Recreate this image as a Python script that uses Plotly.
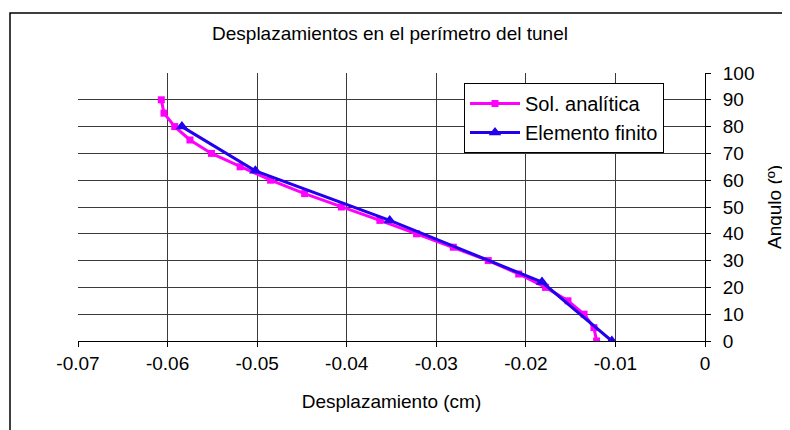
import plotly.graph_objects as go

# Data
ang_analitica = [0, 5, 10, 15, 20, 25, 30, 35, 40, 45, 50, 55, 60, 65, 70, 75, 80, 85, 90]
desp_analitica = [-0.0121, -0.0124, -0.0135, -0.0153, -0.0178, -0.0208, -0.0242, -0.0281,
                  -0.0322, -0.0363, -0.0406, -0.0447, -0.0485, -0.0519, -0.0551, -0.0575,
                  -0.0592, -0.0604, -0.0607]

ang_fem = [0, 22, 45, 63.5, 80]
desp_fem = [-0.0104, -0.0182, -0.0352, -0.0502, -0.0584]

x_ticks = [-0.07, -0.06, -0.05, -0.04, -0.03, -0.02, -0.01, 0]
x_ticktext = ["-0.07", "-0.06", "-0.05", "-0.04", "-0.03", "-0.02", "-0.01", "0"]
X_MIN, X_MAX = -0.07, 0

FONT = "Liberation Sans, Arial, sans-serif"
FS = 19
GRID = "#3a3a3a"

fig = go.Figure()
fig.add_trace(go.Scatter(
    x=desp_analitica, y=ang_analitica, mode="lines+markers", name="Sol. analítica",
    line=dict(color="#FF00FF", width=3),
    marker=dict(symbol="square", size=7, color="#FF00FF"),
))
fig.add_trace(go.Scatter(
    x=desp_fem, y=ang_fem, mode="lines+markers", name="Elemento finito",
    line=dict(color="#2200EE", width=3),
    marker=dict(symbol="triangle-up", size=11, color="#2200EE"),
))

OFF = 8  # page body margin
W, H = 790, 430
# plot area in page coordinates: x 78..705, y 73..341
L = 78 - OFF
T = 73 - OFF
R = W - (705 - OFF)
B = H - (341 - OFF)
pw, ph = W - L - R, H - T - B

def px(xp):
    return (xp - OFF - L) / pw

def py(yp):
    return (H - B - (yp - OFF)) / ph

fig.update_layout(
    width=W, height=H,
    margin=dict(l=L, r=R, t=T, b=B, autoexpand=False),
    paper_bgcolor="white", plot_bgcolor="white",
    font=dict(family=FONT, size=FS, color="black"),
    title=dict(text="Desplazamientos en el perímetro del tunel", x=px(390), xref="paper",
               xanchor="center", y=1 - (33 - OFF) / H, yanchor="middle",
               font=dict(family=FONT, size=FS, color="black")),
    showlegend=True,
    legend=dict(x=px(464), y=py(83), xanchor="left", yanchor="top",
                bgcolor="white", bordercolor="black", borderwidth=1,
                font=dict(family=FONT, size=20, color="black"),
                itemwidth=50, tracegroupgap=0),
    xaxis=dict(range=[X_MIN, X_MAX], tickvals=x_ticks, ticktext=x_ticktext,
               showgrid=True, gridcolor=GRID, gridwidth=1,
               showline=True, linecolor="black", linewidth=1,
               ticks="outside", ticklen=5, tickcolor="black",
               zeroline=False,
               tickfont=dict(family=FONT, size=FS, color="black"),
               title=dict(text="Desplazamiento (cm)", standoff=21,
                          font=dict(family=FONT, size=FS, color="black"))),
    yaxis=dict(range=[0, 100], dtick=10, side="right",
               showgrid=True, gridcolor=GRID, gridwidth=1,
               showline=True, linecolor="black", linewidth=1,
               ticks="outside", ticklen=5, tickcolor="black",
               zeroline=False, ticklabelstandoff=8,
               tickfont=dict(family=FONT, size=FS, color="black"),
               title=dict(text="Angulo (º)", standoff=14,
                          font=dict(family=FONT, size=FS, color="black"))),
    shapes=[
        # hide the gridline lying on the left edge of the plot area (not drawn in the original)
        dict(type="line", xref="x", yref="paper", x0=X_MIN, x1=X_MIN, y0=0, y1=1,
             line=dict(color="white", width=2), layer="between"),
        # outer chart frame (left and top edges visible)
        dict(type="rect", xref="paper", yref="paper",
             x0=px(10), x1=1.4, y0=-0.6, y1=py(13),
             line=dict(color="black", width=1.5), fillcolor="rgba(0,0,0,0)", layer="below"),
    ],
)

fig.write_html("out.html")
